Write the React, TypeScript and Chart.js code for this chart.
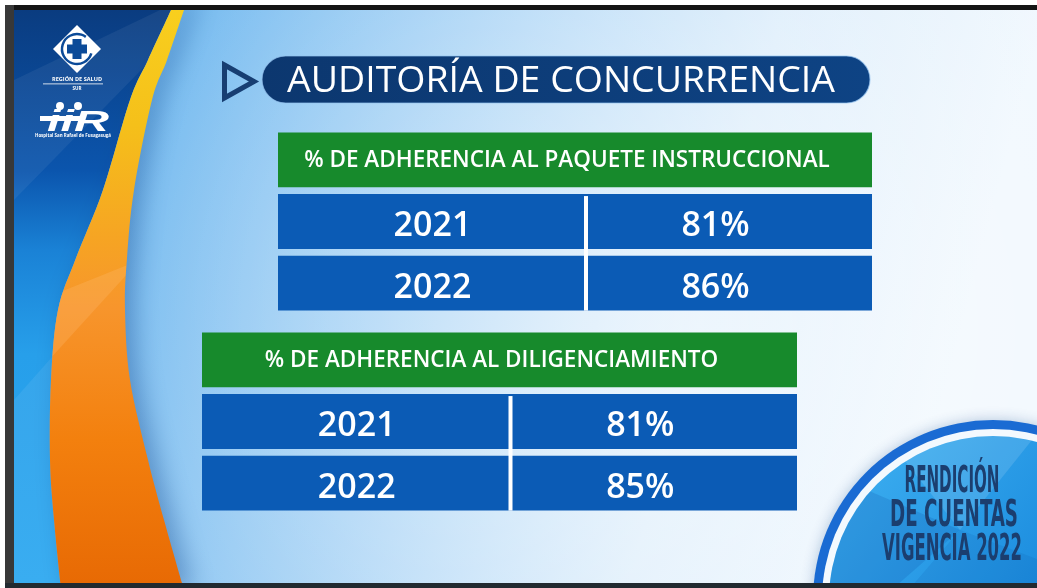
import React, { useEffect, useRef } from 'react';
import { Chart, registerables } from 'chart.js';

Chart.register(...registerables);

// ---------- data ----------
const slideTitle = 'AUDITORÍA DE CONCURRENCIA';
const tableTitles = ['% DE ADHERENCIA AL PAQUETE INSTRUCCIONAL', '% DE ADHERENCIA AL DILIGENCIAMIENTO'];
const years = ['2021', '2022'];
const adherenciaPaquete = [81, 86];
const adherenciaDiligenciamiento = [81, 85];
const columns = ['Año', 'Adherencia'];
const badgeLines = ['RENDICIÓN', 'DE CUENTAS', 'VIGENCIA 2022'];
const logoLines = ['REGIÓN DE SALUD', 'SUR', 'Hospital San Rafael de Fusagasugá'];

// ---------- styles ----------
const W = 1037;
const H = 588;
const GREEN = '#178a2c';
const BLUE = '#0b5bb5';
const FONT = '"Open Sans", "Noto Sans", sans-serif';
const DIVIDER_OFFSET = 11;
const COLUMN_TEXT_SHIFT = [6, -8];

type Pt = [number, number];

function spline(ctx: CanvasRenderingContext2D, pts: Pt[], move: boolean) {
  if (move) ctx.moveTo(pts[0][0], pts[0][1]);
  else ctx.lineTo(pts[0][0], pts[0][1]);
  for (let i = 0; i < pts.length - 1; i++) {
    const p0 = pts[Math.max(i - 1, 0)];
    const p1 = pts[i];
    const p2 = pts[i + 1];
    const p3 = pts[Math.min(i + 2, pts.length - 1)];
    ctx.bezierCurveTo(
      p1[0] + (p2[0] - p0[0]) / 6,
      p1[1] + (p2[1] - p0[1]) / 6,
      p2[0] - (p3[0] - p1[0]) / 6,
      p2[1] - (p3[1] - p1[1]) / 6,
      p2[0],
      p2[1]
    );
  }
}

function fitText(ctx: CanvasRenderingContext2D, text: string, cx: number, y: number, width: number) {
  const m = ctx.measureText(text).width;
  const s = width / m;
  ctx.save();
  ctx.translate(cx, y);
  ctx.scale(s, 1);
  ctx.textAlign = 'center';
  ctx.fillText(text, 0, 0);
  ctx.restore();
}

const leftEdge: Pt[] = [
  [176, -2], [171, 10], [148, 60], [130, 100], [103, 190], [76, 258], [58, 310], [51, 380], [50, 460], [54, 520], [61, 590],
];
const rightEdge: Pt[] = [
  [188, -2], [184, 10], [167, 60], [152, 100], [134, 190], [127, 258], [125, 310], [130, 380], [148, 460], [164, 520], [184, 590],
];

function drawSlide(ctx: CanvasRenderingContext2D) {
  const L = 14, T = 10, B = 583;
  ctx.save();
  ctx.fillStyle = '#ffffff';
  ctx.fillRect(0, 0, W, H);

  ctx.save();
  ctx.beginPath();
  ctx.rect(L, T, W - L, B - T);
  ctx.clip();

  // background
  const g = ctx.createLinearGradient(160, 40, 980, 260);
  g.addColorStop(0, '#72b9ef');
  g.addColorStop(0.35, '#a6d2f5');
  g.addColorStop(0.7, '#dcedfb');
  g.addColorStop(1, '#f1f8fe');
  ctx.fillStyle = g;
  ctx.fillRect(L, T, W - L, B - T);
  const rg = ctx.createRadialGradient(640, 330, 40, 640, 330, 560);
  rg.addColorStop(0, 'rgba(255,255,255,0.5)');
  rg.addColorStop(1, 'rgba(255,255,255,0)');
  ctx.fillStyle = rg;
  ctx.fillRect(L, T, W - L, B - T);

  // left panel
  ctx.beginPath();
  ctx.moveTo(L - 5, T - 5);
  ctx.lineTo(leftEdge[0][0], leftEdge[0][1]);
  spline(ctx, leftEdge, false);
  ctx.lineTo(L - 5, B + 10);
  ctx.closePath();
  const pg = ctx.createLinearGradient(0, 10, 0, 583);
  pg.addColorStop(0, '#0a3c80');
  pg.addColorStop(0.28, '#0b55ad');
  pg.addColorStop(0.42, '#1a82d6');
  pg.addColorStop(0.6, '#279fea');
  pg.addColorStop(1, '#2aa7f0');
  ctx.fillStyle = pg;
  ctx.fill();
  ctx.save();
  ctx.clip();
  ctx.fillStyle = 'rgba(255,255,255,0.06)';
  ctx.beginPath();
  ctx.moveTo(L, 80);
  ctx.lineTo(160, 10);
  ctx.lineTo(200, 10);
  ctx.lineTo(L, 200);
  ctx.closePath();
  ctx.fill();
  ctx.fillStyle = 'rgba(255,255,255,0.07)';
  ctx.beginPath();
  ctx.moveTo(L, 400);
  ctx.lineTo(120, 280);
  ctx.lineTo(120, 583);
  ctx.lineTo(L, 583);
  ctx.closePath();
  ctx.fill();
  ctx.restore();

  // band
  ctx.save();
  ctx.beginPath();
  spline(ctx, leftEdge, true);
  ctx.lineTo(rightEdge[rightEdge.length - 1][0], rightEdge[rightEdge.length - 1][1]);
  spline(ctx, [...rightEdge].reverse(), false);
  ctx.closePath();
  const bg = ctx.createLinearGradient(0, 10, 0, 583);
  bg.addColorStop(0, '#f8cf1e');
  bg.addColorStop(0.2, '#f5c01a');
  bg.addColorStop(0.4, '#f6a423');
  bg.addColorStop(0.52, '#f7952c');
  bg.addColorStop(0.75, '#f3800e');
  bg.addColorStop(1, '#e86a04');
  ctx.shadowColor = 'rgba(20,70,140,0.4)';
  ctx.shadowBlur = 24;
  ctx.shadowOffsetX = 9;
  ctx.fillStyle = bg;
  ctx.fill();
  ctx.shadowColor = 'transparent';
  ctx.clip();
  ctx.fillStyle = 'rgba(255,190,120,0.25)';
  ctx.beginPath();
  ctx.moveTo(40, 300);
  ctx.lineTo(140, 260);
  ctx.lineTo(40, 370);
  ctx.closePath();
  ctx.fill();
  ctx.restore();

  // logos
  ctx.fillStyle = '#ffffff';
  ctx.beginPath();
  ctx.moveTo(77, 25);
  ctx.lineTo(101, 49);
  ctx.lineTo(77, 73);
  ctx.lineTo(53, 49);
  ctx.closePath();
  ctx.fill();
  ctx.strokeStyle = '#0b4a98';
  ctx.lineWidth = 2.5;
  ctx.beginPath();
  ctx.arc(77, 49, 15, 0.3, Math.PI * 1.7);
  ctx.stroke();
  ctx.fillStyle = '#ffffff';
  ctx.beginPath();
  ctx.arc(77, 49, 12.5, 0, Math.PI * 2);
  ctx.fill();
  ctx.fillStyle = '#0b4a98';
  ctx.fillRect(72.5, 39, 9, 20);
  ctx.fillRect(67, 44.5, 20, 9);
  ctx.fillStyle = '#ffffff';
  ctx.font = `bold 5.5px ${FONT}`;
  fitText(ctx, logoLines[0], 77, 81, 50);
  ctx.fillRect(43, 83.5, 60, 0.8);
  ctx.font = `bold 6px ${FONT}`;
  fitText(ctx, logoLines[1], 77, 90, 9);
  ctx.beginPath();
  ctx.arc(60, 106, 4, 0, Math.PI * 2);
  ctx.arc(78, 106, 4, 0, Math.PI * 2);
  ctx.fill();
  ctx.font = `italic bold 30px "Liberation Sans", sans-serif`;
  fitText(ctx, 'iiR', 78, 131, 62);
  ctx.fillRect(40, 116, 42, 5);
  ctx.font = `bold 5px ${FONT}`;
  fitText(ctx, logoLines[2], 73, 137, 76);

  // title
  ctx.strokeStyle = '#173e72';
  ctx.lineWidth = 5;
  ctx.lineJoin = 'miter';
  ctx.beginPath();
  ctx.moveTo(224.5, 65);
  ctx.lineTo(254, 81.5);
  ctx.lineTo(224.5, 98);
  ctx.closePath();
  ctx.stroke();

  ctx.beginPath();
  ctx.roundRect(262, 56, 608, 47, 23.5);
  const tg = ctx.createLinearGradient(262, 0, 870, 0);
  tg.addColorStop(0, '#0c376f');
  tg.addColorStop(1, '#0e4384');
  ctx.fillStyle = tg;
  ctx.fill();
  ctx.strokeStyle = 'rgba(150,195,240,0.7)';
  ctx.lineWidth = 1.2;
  ctx.stroke();
  ctx.fillStyle = '#ffffff';
  ctx.font = `500 36px ${FONT}`;
  fitText(ctx, slideTitle, 561, 92, 548);

  // badge
  const cx = 993, cy = 600;
  ctx.save();
  ctx.shadowColor = 'rgba(20,70,140,0.3)';
  ctx.shadowBlur = 14;
  ctx.beginPath();
  ctx.arc(cx, cy, 180, 0, Math.PI * 2);
  ctx.fillStyle = '#1a6bd3';
  ctx.fill();
  ctx.restore();
  ctx.beginPath();
  ctx.arc(cx, cy, 171, 0, Math.PI * 2);
  ctx.fillStyle = '#f3f9fe';
  ctx.fill();
  ctx.save();
  ctx.beginPath();
  ctx.arc(cx, cy, 164, 0, Math.PI * 2);
  const cg = ctx.createLinearGradient(860, 440, 1037, 583);
  cg.addColorStop(0, '#3caef0');
  cg.addColorStop(1, '#1c8ddf');
  ctx.fillStyle = cg;
  ctx.fill();
  ctx.clip();
  ctx.fillStyle = 'rgba(10,70,160,0.18)';
  ctx.beginPath();
  ctx.moveTo(820, 470);
  ctx.lineTo(960, 530);
  ctx.lineTo(880, 600);
  ctx.lineTo(820, 600);
  ctx.closePath();
  ctx.fill();
  ctx.fillStyle = 'rgba(255,255,255,0.12)';
  ctx.beginPath();
  ctx.moveTo(880, 430);
  ctx.lineTo(1040, 430);
  ctx.lineTo(960, 530);
  ctx.closePath();
  ctx.fill();
  ctx.fillStyle = 'rgba(10,70,160,0.12)';
  ctx.beginPath();
  ctx.moveTo(960, 530);
  ctx.lineTo(1040, 560);
  ctx.lineTo(1040, 600);
  ctx.lineTo(900, 600);
  ctx.closePath();
  ctx.fill();
  ctx.restore();

  ctx.fillStyle = '#1b3e6f';
  ctx.font = `bold 37px "Liberation Sans Narrow", "DejaVu Sans Condensed", sans-serif`;
  fitText(ctx, badgeLines[0], 952, 492, 95);
  fitText(ctx, badgeLines[1], 954, 526, 128);
  fitText(ctx, badgeLines[2], 952, 560, 140);

  ctx.restore();

  // frame
  ctx.fillStyle = '#141414';
  ctx.fillRect(5, 5, W - 5, 5);
  ctx.fillStyle = '#383838';
  ctx.fillRect(5, 5, 9, H - 5);
  ctx.fillStyle = '#222a30';
  ctx.fillRect(5, 583, W - 5, 5);
  ctx.restore();
}

const slidePlugin = {
  id: 'slide',
  beforeDraw(chart: any) {
    drawSlide(chart.ctx);
  },
};

// Draws the column divider and the cell texts at column centres from the x scale.
const cellTextPlugin = {
  id: 'cellText',
  afterDatasetsDraw(chart: any) {
    const ctx: CanvasRenderingContext2D = chart.ctx;
    const xs = chart.scales.x;
    ctx.save();
    const rowDs = chart.data.datasets[1];
    const rowMeta = chart.getDatasetMeta(1);
    const rows = rowMeta.data.filter((_: any, i: number) => rowDs.data[i] != null);
    if (rows.length) {
      const top = rows[0].y - rows[0].height / 2;
      const last = rows[rows.length - 1];
      const bottom = last.y + last.height / 2;
      ctx.fillStyle = '#ffffff';
      for (let c = 1; c < columns.length; c++) {
        const x = xs.getPixelForValue(c) + DIVIDER_OFFSET;
        ctx.fillRect(x - 2, top + 2, 4, bottom - top - 2);
      }
    }
    ctx.fillStyle = '#ffffff';
    ctx.textAlign = 'center';
    ctx.textBaseline = 'middle';

    // header
    const hDs = chart.data.datasets[0];
    const hMeta = chart.getDatasetMeta(0);
    ctx.font = hDs.cellFont;
    hMeta.data.forEach((el: any, i: number) => {
      if (hDs.data[i] == null) return;
      const p = el.getCenterPoint();
      ctx.fillText(hDs.cellText[i], p.x - 8, p.y + 1);
    });

    // rows
    ctx.font = rowDs.cellFont;
    rowMeta.data.forEach((el: any, i: number) => {
      if (rowDs.data[i] == null) return;
      const cells = rowDs.cellText[i];
      cells.forEach((t: string, c: number) => {
        const x = xs.getPixelForValue(c + 0.5) + COLUMN_TEXT_SHIFT[c];
        ctx.fillText(t, x, el.y + 5);
      });
    });
    ctx.restore();
  },
};

function tableConfig(title: string, values: number[]): any {
  const labels = [title, ...years];
  const n = columns.length;
  const header = labels.map((_, i) => (i === 0 ? [0, n] : null));
  const rowData = labels.map((_, i) => (i === 0 ? null : [0, n]));
  const rowText = labels.map((_, i) => (i === 0 ? null : [years[i - 1], `${values[i - 1]}%`]));
  const common = {
    grouped: false,
    barPercentage: 1,
    categoryPercentage: 0.89,
    borderSkipped: false,
    borderWidth: 0,
    inflateAmount: 0,
  };
  return {
    type: 'bar',
    data: {
      labels,
      datasets: [
        {
          ...common,
          label: 'Indicador',
          data: header,
          backgroundColor: GREEN,
          cellText: labels.map((l, i) => (i === 0 ? l : null)),
          cellFont: `600 22.5px ${FONT}`,
        },
        {
          ...common,
          label: columns.join(' / '),
          data: rowData,
          backgroundColor: BLUE,
          cellText: rowText,
          cellFont: `600 34px ${FONT}`,
        },
      ],
    },
    options: {
      indexAxis: 'y',
      animation: false,
      responsive: false,
      events: [],
      layout: { padding: 0 },
      plugins: { legend: { display: false }, tooltip: { enabled: false }, title: { display: false } },
      scales: {
        x: { type: 'linear', min: 0, max: n, display: false },
        y: { type: 'category', display: false },
      },
    },
    plugins: [cellTextPlugin],
  };
}

export default function App() {
  const bgRef = useRef<HTMLCanvasElement>(null);
  const t1Ref = useRef<HTMLCanvasElement>(null);
  const t2Ref = useRef<HTMLCanvasElement>(null);

  useEffect(() => {
    document.body.style.margin = '0';
    const charts: Chart[] = [];
    if (bgRef.current) {
      charts.push(
        new Chart(bgRef.current, {
          type: 'bar',
          data: { labels: [], datasets: [] },
          options: {
            animation: false,
            responsive: false,
            events: [],
            plugins: { legend: { display: false }, tooltip: { enabled: false } },
            scales: { x: { display: false }, y: { display: false } },
          },
          plugins: [slidePlugin],
        } as any)
      );
    }
    if (t1Ref.current) charts.push(new Chart(t1Ref.current, tableConfig(tableTitles[0], adherenciaPaquete)));
    if (t2Ref.current) charts.push(new Chart(t2Ref.current, tableConfig(tableTitles[1], adherenciaDiligenciamiento)));
    return () => charts.forEach((c) => c.destroy());
  }, []);

  return (
    <div style={{ position: 'fixed', left: 0, top: 0, width: W, height: H, overflow: 'hidden' }}>
      <canvas ref={bgRef} width={W} height={H} style={{ position: 'absolute', left: 0, top: 0 }} />
      <canvas ref={t1Ref} width={594} height={185} style={{ position: 'absolute', left: 278, top: 129 }} />
      <canvas ref={t2Ref} width={595} height={185} style={{ position: 'absolute', left: 202, top: 329 }} />
    </div>
  );
}
